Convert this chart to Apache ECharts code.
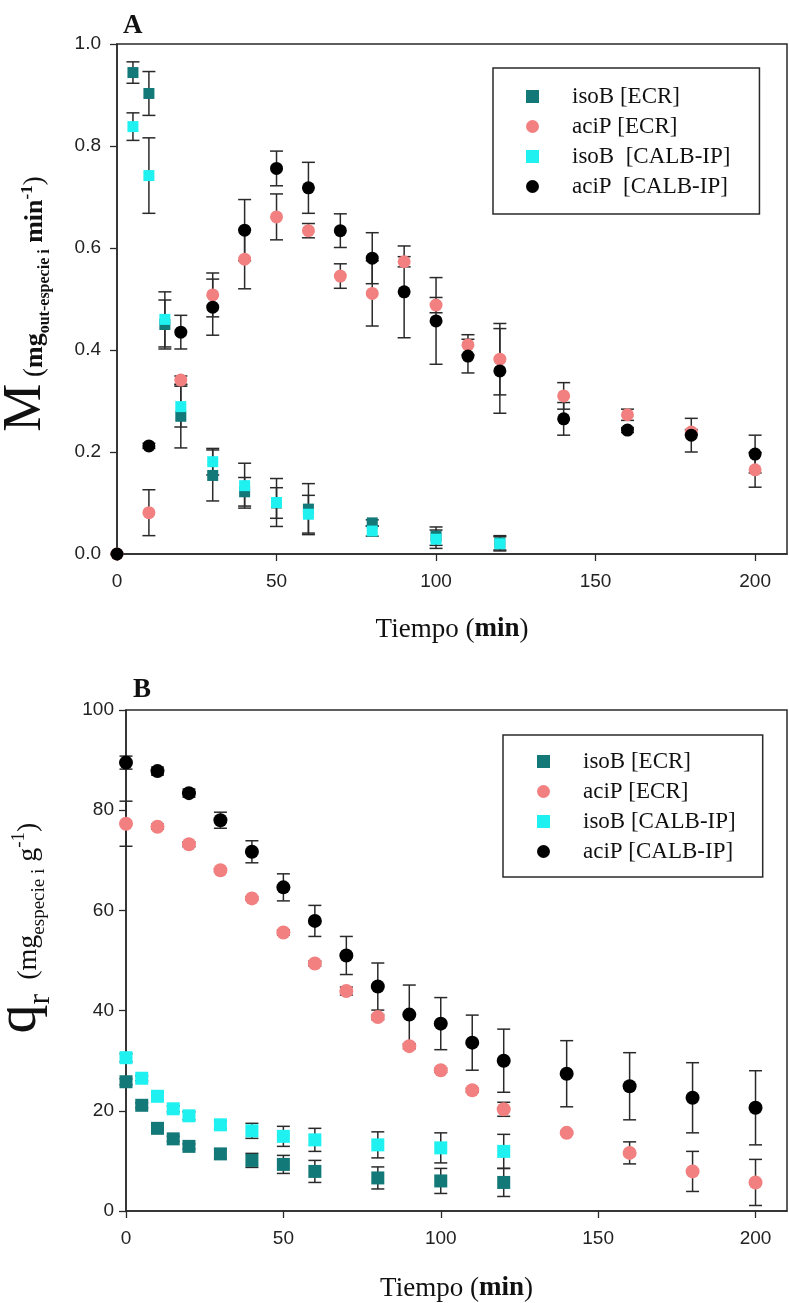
<!DOCTYPE html>
<html>
<head>
<meta charset="utf-8">
<script src="https://cdn.jsdelivr.net/npm/echarts@6/dist/echarts.min.js"></script>
<style>
html, body { margin: 0; padding: 0; background: #fff; }
#chart { width: 789px; height: 1303px; }
</style>
</head>
<body>
<div id="chart"></div>
<script>
// ---- panel A: M (mg out-especie i min-1) ----
const aIsoX = [5, 10, 15, 20, 30, 40, 50, 60, 80, 100, 120];
const aIsoEcrY = [0.944, 0.903, 0.450, 0.270, 0.154, 0.122, 0.100, 0.088, 0.061, 0.035, 0.022];
const aIsoEcrErr = [0.021, 0.043, 0.048, 0.062, 0.050, 0.028, 0.030, 0.050, 0.006, 0.018, 0.014];
const aIsoCalbY = [0.838, 0.742, 0.460, 0.289, 0.181, 0.134, 0.101, 0.078, 0.045, 0.029, 0.020];
const aIsoCalbErr = [0.027, 0.074, 0.054, 0.040, 0.026, 0.044, 0.047, 0.037, 0.010, 0.018, 0.014];
const aAciX = [0, 10, 20, 30, 40, 50, 60, 70, 80, 90, 100, 110, 120, 140, 160, 180, 200];
const aAciEcrY = [0, 0.081, 0.341, 0.508, 0.578, 0.661, 0.634, 0.545, 0.511, 0.573, 0.488, 0.410, 0.382, 0.310, 0.273, 0.239, 0.165];
const aAciEcrErr = [0, 0.045, 0.008, 0.043, 0.058, 0.045, 0.014, 0.024, 0.064, 0.010, 0.015, 0.020, 0.070, 0.026, 0.011, 0.005, 0.034];
const aAciCalbY = [0, 0.212, 0.435, 0.484, 0.635, 0.756, 0.718, 0.634, 0.580, 0.514, 0.457, 0.388, 0.359, 0.265, 0.243, 0.233, 0.196];
const aAciCalbErr = [0, 0.005, 0.033, 0.055, 0.060, 0.034, 0.050, 0.033, 0.050, 0.090, 0.085, 0.033, 0.083, 0.032, 0.005, 0.033, 0.037];

// ---- panel B: qr (mg especie i g-1) ----
const bIsoX = [0, 5, 10, 15, 20, 30, 40, 50, 60, 80, 100, 120];
const bIsoEcrY = [25.8, 21.1, 16.5, 14.4, 12.9, 11.4, 10.1, 9.3, 7.9, 6.6, 6.0, 5.7];
const bIsoEcrErr = [0.6, 0.5, 0.5, 0.5, 0.5, 1.0, 1.4, 1.8, 2.2, 2.2, 2.5, 2.8];
const bIsoCalbY = [30.6, 26.5, 22.9, 20.4, 19.0, 17.2, 16.0, 14.9, 14.2, 13.2, 12.6, 11.9];
const bIsoCalbErr = [0.8, 0.5, 0.5, 0.6, 0.8, 0.8, 1.5, 2.0, 2.3, 2.6, 3.0, 3.4];
const bAciX = [0, 10, 20, 30, 40, 50, 60, 70, 80, 90, 100, 110, 120, 140, 160, 180, 200];
const bAciEcrY = [77.3, 76.7, 73.2, 68.0, 62.4, 55.6, 49.4, 43.9, 38.7, 32.9, 28.1, 24.1, 20.3, 15.6, 11.6, 7.9, 5.7];
const bAciEcrErr = [4.5, 0.5, 0.5, 0.3, 0.3, 0.5, 0.5, 0.8, 0.5, 0.5, 0.4, 0.4, 1.4, 0.3, 2.2, 4.0, 4.6];
const bAciCalbY = [89.5, 87.8, 83.4, 78.0, 71.7, 64.6, 57.9, 51.0, 44.8, 39.2, 37.4, 33.6, 30.0, 27.4, 24.9, 22.6, 20.6];
const bAciCalbErr = [1.3, 0.8, 0.8, 1.6, 2.2, 2.7, 3.1, 3.8, 4.7, 5.9, 5.2, 5.5, 6.3, 6.6, 6.7, 7.0, 7.4];

const xTicks = [0, 50, 100, 150, 200];
const namesA = ['isoB [ECR]', 'aciP [ECR]', 'isoB  [CALB-IP]', 'aciP  [CALB-IP]'];
const namesB = ['isoB [ECR]', 'aciP [ECR]', 'isoB [CALB-IP]', 'aciP [CALB-IP]'];

const TEAL = '#137878', PINK = '#f28080', CYAN = '#1ff0f0', BLACK = '#000000';
const AXIS = '#2a2a2a';
const SANS = 'Liberation Sans', SERIF = 'Liberation Serif';

function zip(xs, ys, es) {
    return xs.map((x, i) => [x, ys[i], es ? es[i] : 0]);
}

// vertical error bar with caps
function errorBars(gi, xs, ys, es) {
    return {
        type: 'custom',
        xAxisIndex: gi, yAxisIndex: gi,
        data: zip(xs, ys, es),
        encode: { x: 0, y: 1 },
        silent: true,
        renderItem(params, api) {
            const x = api.value(0), y = api.value(1), e = api.value(2);
            if (!e) return null;
            const top = api.coord([x, y + e]);
            const bot = api.coord([x, y - e]);
            const w = 6.5;
            const st = { stroke: AXIS, lineWidth: 1.5 };
            return {
                type: 'group',
                children: [
                    { type: 'line', shape: { x1: top[0], y1: top[1], x2: bot[0], y2: bot[1] }, style: st },
                    { type: 'line', shape: { x1: top[0] - w, y1: top[1], x2: top[0] + w, y2: top[1] }, style: st },
                    { type: 'line', shape: { x1: bot[0] - w, y1: bot[1], x2: bot[0] + w, y2: bot[1] }, style: st }
                ]
            };
        }
    };
}

function points(gi, name, xs, ys, symbol, size, color) {
    return {
        type: 'scatter', name,
        xAxisIndex: gi, yAxisIndex: gi,
        data: zip(xs, ys).map(d => [d[0], d[1]]),
        symbol, symbolSize: size,
        itemStyle: { color, opacity: 1 },
        emphasis: { disabled: true }
    };
}

function xAxisOf(gi, gap) {
    return {
        gridIndex: gi, type: 'value', min: 0, max: 210,
        axisLine: { onZero: false, lineStyle: { color: AXIS, width: 1.5 } },
        axisTick: { length: 7, customValues: xTicks, lineStyle: { color: AXIS, width: 1.3 } },
        axisLabel: { customValues: xTicks, margin: 18, fontSize: 19, fontFamily: SANS, color: '#222' },
        splitLine: { show: false },
        name: '{n|Tiempo (}{b|min}{n|)}',
        nameLocation: 'middle', nameGap: gap,
        nameTextStyle: {
            rich: {
                n: { fontFamily: SERIF, fontSize: 27, color: '#111' },
                b: { fontFamily: SERIF, fontSize: 27, fontWeight: 'bold', color: '#111' }
            }
        }
    };
}

function yAxisOf(gi, max, interval, fmt, margin) {
    return {
        gridIndex: gi, type: 'value', min: 0, max, interval,
        axisLine: { show: true, onZero: false, lineStyle: { color: AXIS, width: 1.5 } },
        axisTick: { show: true, length: 7, lineStyle: { color: AXIS, width: 1.3 } },
        axisLabel: { margin, fontSize: 19, fontFamily: SANS, color: '#222', formatter: fmt },
        splitLine: { show: false }
    };
}

function legendOf(names, left, top, padding) {
    return {
        data: names, left, top, orient: 'vertical',
        itemWidth: 13, itemHeight: 13, itemGap: 7,
        padding, borderColor: AXIS, borderWidth: 1.5,
        selectedMode: false,
        formatter: n => '{t|' + n + '}',
        textStyle: {
            fontFamily: SERIF, fontSize: 23, color: '#111',
            rich: { t: { fontFamily: SERIF, fontSize: 23, padding: [0, 0, 0, 28], color: '#111' } }
        }
    };
}

const chart = echarts.init(document.getElementById('chart'));

chart.setOption({
    backgroundColor: '#fff',
    animation: false,
    title: [
        { text: 'A', left: 123, top: 13, padding: 0, textStyle: { fontFamily: SERIF, fontWeight: 'bold', fontSize: 27, color: '#111' } },
        { text: 'B', left: 133, top: 677, padding: 0, textStyle: { fontFamily: SERIF, fontWeight: 'bold', fontSize: 27, color: '#111' } }
    ],
    grid: [
        { left: 117, top: 44, width: 670, height: 510, show: true, borderColor: AXIS, borderWidth: 1.5, backgroundColor: 'transparent' },
        { left: 126, top: 710, width: 661, height: 507, show: true, borderColor: AXIS, borderWidth: 1.5, backgroundColor: 'transparent' }
    ],
    xAxis: [xAxisOf(0, 62), xAxisOf(1, 64)],
    yAxis: [
        yAxisOf(0, 1, 0.2, v => v.toFixed(1), 16),
        yAxisOf(1, 100, 20, v => String(v), 12)
    ],
    legend: [
        legendOf(namesA, 493, 68, [17, 29, 16, 33]),
        legendOf(namesB, 503, 735, [15, 27, 14, 34])
    ],
    graphic: [
        {
            type: 'text', x: 26, y: 304, rotation: Math.PI / 2,
            style: {
                text: '{M|M}{p| (}{b|mg}{s|out-especie i}{b| min}{u|-1}{p|)}',
                align: 'center', verticalAlign: 'middle', fill: '#111',
                rich: {
                    M: { fontFamily: SERIF, fontSize: 54, lineHeight: 54, verticalAlign: 'bottom' },
                    p: { fontFamily: SERIF, fontSize: 27, lineHeight: 27, verticalAlign: 'bottom', padding: [0, 0, 5, 0] },
                    b: { fontFamily: SERIF, fontSize: 26, fontWeight: 'bold', lineHeight: 26, verticalAlign: 'bottom', padding: [0, 0, 5, 0] },
                    s: { fontFamily: SERIF, fontSize: 16, fontWeight: 'bold', lineHeight: 16, verticalAlign: 'bottom' },
                    u: { fontFamily: SERIF, fontSize: 17, fontWeight: 'bold', lineHeight: 17, verticalAlign: 'bottom', padding: [0, 0, 17, 0] }
                }
            }
        },
        {
            type: 'text', x: 28, y: 928, rotation: Math.PI / 2,
            style: {
                text: '{q|q}{r|r}{p|  (mg}{s|especie i}{p| g}{u|-1}{p|)}',
                align: 'center', verticalAlign: 'middle', fill: '#111',
                rich: {
                    q: { fontFamily: SERIF, fontSize: 58, lineHeight: 58, verticalAlign: 'bottom', padding: [0, 0, 8, 0] },
                    r: { fontFamily: SERIF, fontSize: 32, lineHeight: 32, verticalAlign: 'bottom' },
                    p: { fontFamily: SERIF, fontSize: 28, lineHeight: 28, verticalAlign: 'bottom', padding: [0, 0, 14, 0] },
                    s: { fontFamily: SERIF, fontSize: 19, lineHeight: 19, verticalAlign: 'bottom', padding: [0, 0, 8, 0] },
                    u: { fontFamily: SERIF, fontSize: 19, lineHeight: 19, verticalAlign: 'bottom', padding: [0, 0, 28, 0] }
                }
            }
        }
    ],
    series: [
        errorBars(0, aIsoX, aIsoEcrY, aIsoEcrErr),
        points(0, namesA[0], aIsoX, aIsoEcrY, 'rect', 11, TEAL),
        errorBars(0, aAciX, aAciEcrY, aAciEcrErr),
        points(0, namesA[1], aAciX, aAciEcrY, 'circle', 13, PINK),
        errorBars(0, aIsoX, aIsoCalbY, aIsoCalbErr),
        points(0, namesA[2], aIsoX, aIsoCalbY, 'rect', 11, CYAN),
        errorBars(0, aAciX, aAciCalbY, aAciCalbErr),
        points(0, namesA[3], aAciX, aAciCalbY, 'circle', 13, BLACK),

        errorBars(1, bIsoX, bIsoEcrY, bIsoEcrErr),
        points(1, namesB[0], bIsoX, bIsoEcrY, 'rect', 13, TEAL),
        errorBars(1, bAciX, bAciEcrY, bAciEcrErr),
        points(1, namesB[1], bAciX, bAciEcrY, 'circle', 14, PINK),
        errorBars(1, bIsoX, bIsoCalbY, bIsoCalbErr),
        points(1, namesB[2], bIsoX, bIsoCalbY, 'rect', 13, CYAN),
        errorBars(1, bAciX, bAciCalbY, bAciCalbErr),
        points(1, namesB[3], bAciX, bAciCalbY, 'circle', 14, BLACK)
    ]
});
</script>
</body>
</html>
